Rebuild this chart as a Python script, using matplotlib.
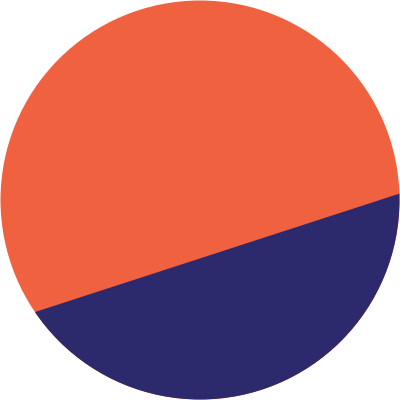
import numpy as np
import matplotlib
matplotlib.use("Agg")
import matplotlib.pyplot as plt
from matplotlib.patches import Circle, Polygon

# filled share of the circle (navy part) and tilt of the fill level
categories = ["rest", "filled"]
shares = [0.675, 0.325]
tilt_deg = 18.0
colors = ["#F06140", "#2C296C"]


def level_for_share(f):
    # distance from centre to chord so the segment area is f of the disc
    lo, hi = 0.0, np.pi
    for _ in range(60):
        th = 0.5 * (lo + hi)
        if (th - np.sin(th)) / (2 * np.pi) < f:
            lo = th
        else:
            hi = th
    return np.cos(0.5 * lo)


fig = plt.figure(figsize=(4, 4), dpi=100)
ax = fig.add_axes([0, 0, 1, 1])
ax.set_xlim(-1.0025, 1.0025)
ax.set_ylim(-1.0025, 1.0025)
ax.set_aspect("equal")
ax.axis("off")

disc = Circle((0, 0), 1.0, facecolor=colors[0], edgecolor="none")
ax.add_patch(disc)

d = level_for_share(shares[1])
a = np.radians(tilt_deg)
t = np.array([np.cos(a), np.sin(a)])
n = np.array([np.sin(a), -np.cos(a)])
pts = [d * n - 3 * t, d * n + 3 * t, (d + 3) * n + 3 * t, (d + 3) * n - 3 * t]
seg = Polygon(pts, closed=True, facecolor=colors[1], edgecolor="none")
ax.add_patch(seg)
seg.set_clip_path(disc)

fig.savefig("out.png", dpi=100, facecolor="white")
